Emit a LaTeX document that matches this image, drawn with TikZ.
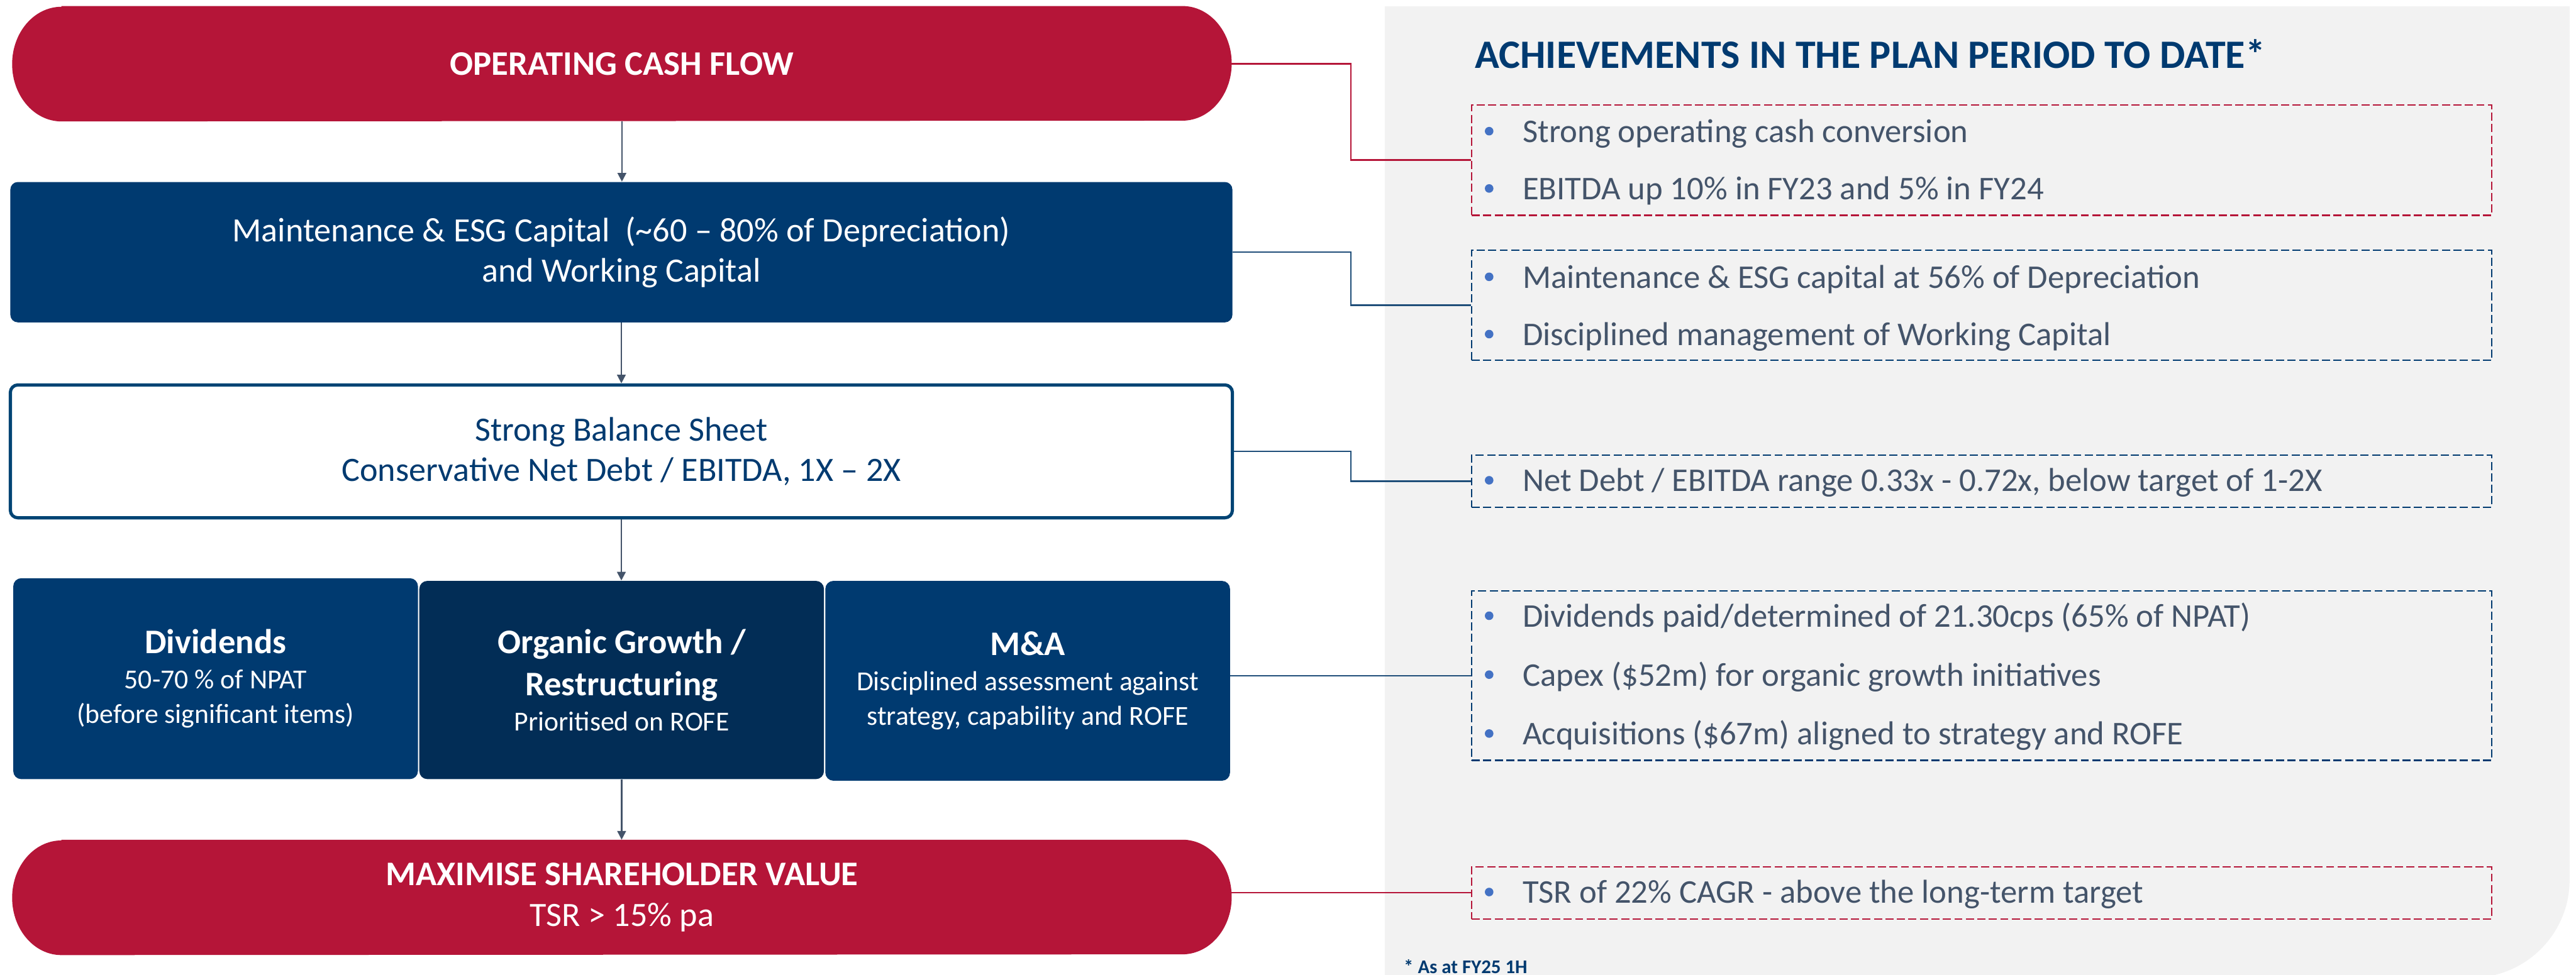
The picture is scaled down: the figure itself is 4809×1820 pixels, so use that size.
\documentclass[tikz,border=0pt]{standalone}
\usepackage{fontspec}
\setmainfont{Carlito}
\usetikzlibrary{arrows.meta,backgrounds,calc}

\definecolor{brandred}{RGB}{181,21,56}
\definecolor{brandblue}{RGB}{0,58,112}
\definecolor{deepblue}{RGB}{2,45,86}
\definecolor{frameblue}{RGB}{0,68,116}
\definecolor{slate}{RGB}{68,84,106}
\definecolor{dotblue}{RGB}{68,114,196}
\definecolor{panelgray}{RGB}{242,242,242}
\definecolor{linkblue}{RGB}{31,78,121}

\newcommand{\hdfont}{\bfseries\fontsize{18.3pt}{21.6pt}\selectfont}
\newcommand{\leftsize}{\fontsize{18.1pt}{21.6pt}\selectfont}
\newcommand{\itemsize}{\fontsize{17.6pt}{21pt}\selectfont}
\newcommand{\smallsize}{\fontsize{14.6pt}{18.5pt}\selectfont}

\tikzset{
  pill/.style={rectangle, minimum width=22.74cm, minimum height=2.14cm,
    inner sep=0pt, text=white, align=center},
  solidbox/.style={rectangle, rounded corners=0.14cm, fill=brandblue,
    text=white, align=center, inner sep=0pt},
  framebox/.style={rectangle, rounded corners=0.14cm, draw=frameblue,
    line width=1.7pt, fill=white, text=brandblue, align=center, inner sep=0pt},
  dashbox/.style={rectangle, line width=0.75pt, dash pattern=on 4.3pt off 1.8pt,
    minimum width=19.03cm, inner sep=0pt},
  achv/.style={anchor=base west, inner sep=0pt, text=slate, font=\itemsize},
  flow/.style={draw=slate, line width=0.75pt, -{Triangle[length=4.6pt,width=4.6pt]}},
  link/.style={line width=0.8pt},
}

\begin{document}
\begin{tikzpicture}[x=0.01cm, y=-0.01cm]
\useasboundingbox (0,0) rectangle (4809,1820);

% ---- left column: cash flow waterfall ----
\node[pill, font=\hdfont] (ocf) at (1161,119) {OPERATING CASH FLOW};

\node[solidbox, minimum width=22.8cm, minimum height=2.62cm, font=\leftsize] (mnt) at (1160,471)
  {Maintenance \& ESG Capital\ \ (\textasciitilde60 -- 80\% of Depreciation)\\and Working Capital};

\node[framebox, minimum width=22.8cm, minimum height=2.48cm, font=\leftsize] (bal) at (1160,843)
  {Strong Balance Sheet\\Conservative Net Debt / EBITDA, 1X -- 2X};

\node[solidbox, minimum width=7.55cm, minimum height=3.75cm, rounded corners=0.15cm, font=\smallsize] (div) at (402.5,1267.5)
  {{\hdfont Dividends}\\50-70 \% of NPAT\\(before significant items)};

\node[solidbox, fill=deepblue, minimum width=7.55cm, minimum height=3.70cm, rounded corners=0.15cm, font=\smallsize] (org) at (1160.5,1270)
  {{\hdfont Organic Growth /}\\[4pt]{\hdfont Restructuring}\\Prioritised on ROFE};

\node[solidbox, minimum width=7.55cm, minimum height=3.73cm, rounded corners=0.15cm, font=\smallsize] (ma) at (1918.5,1271.5)
  {{\hdfont M\&A}\\Disciplined assessment against\\strategy, capability and ROFE};

\node[pill, font=\leftsize] (msv) at (1161,1676)
  {{\hdfont MAXIMISE SHAREHOLDER VALUE}\\TSR > 15\% pa};

% ---- right column: achievements ----
\node[anchor=base west, inner sep=0pt, text=brandblue, font=\bfseries\fontsize{21.4pt}{26pt}\selectfont] (title) at (2753,127)
  {ACHIEVEMENTS IN THE PLAN PERIOD TO DATE*};

\node[dashbox, draw=brandred,  minimum height=2.06cm] (ba) at (3699.5,299) {};
\node[dashbox, draw=brandblue, minimum height=2.06cm] (bb) at (3699.5,570) {};
\node[dashbox, draw=brandblue, minimum height=0.97cm] (bc) at (3699.5,898.5) {};
\node[dashbox, draw=brandblue, minimum height=3.16cm] (bd) at (3699.5,1262) {};
\node[dashbox, draw=brandred,  minimum height=0.97cm] (be) at (3699.5,1667.5) {};

\node[achv] (a1) at (2842,266)  {Strong operating cash conversion};
\node[achv] (a2) at (2842,373)  {EBITDA up 10\% in FY23 and 5\% in FY24};
\node[achv] (b1) at (2842,538)  {Maintenance \& ESG capital at 56\% of Depreciation};
\node[achv] (b2) at (2842,645)  {Disciplined management of Working Capital};
\node[achv] (c1) at (2842,918)  {Net Debt / EBITDA range 0.33x - 0.72x, below target of 1-2X};
\node[achv] (d1) at (2842,1171) {Dividends paid/determined of 21.30cps (65\% of NPAT)};
\node[achv] (d2) at (2842,1281) {Capex (\$52m) for organic growth initiatives};
\node[achv] (d3) at (2842,1391) {Acquisitions (\$67m) aligned to strategy and ROFE};
\node[achv] (e1) at (2842,1687) {TSR of 22\% CAGR - above the long-term target};

\foreach \n in {a1,a2,b1,b2,c1,d1,d2,d3,e1}
  \fill[dotblue] ([xshift=-0.62cm,yshift=0.21cm]\n.base west) circle (0.08cm);

\node[anchor=base west, inner sep=0pt, text=brandblue, font=\bfseries\fontsize{10.3pt}{12pt}\selectfont] (note) at (2620,1818)
  {* As at FY25 1H};

% ---- backgrounds: grey panel and terminator shapes ----
\begin{scope}[on background layer]
  \fill[panelgray] (2585,12) -- (4797,12) -- (4797,1643)
    arc[start angle=0, end angle=-90, radius=1.83cm] -- (2585,1826) -- cycle;
  \foreach \p in {ocf,msv}
    \fill[brandred] ([xshift=0.92cm]\p.north west) -- ([xshift=-0.92cm]\p.north east)
      arc[start angle=90, end angle=-90, x radius=0.92cm, y radius=1.07cm]
      -- ([xshift=0.92cm]\p.south west)
      arc[start angle=270, end angle=90, x radius=0.92cm, y radius=1.07cm] -- cycle;
\end{scope}

% ---- connectors ----
\coordinate (jx) at (2522,0);
\draw[link, brandred]  (ocf.east) -- (ocf.east -| jx) |- (ba.west);
\draw[link, linkblue]  (mnt.east) -- (mnt.east -| jx) |- (bb.west);
\draw[link, linkblue]  (bal.east) -- (bal.east -| jx) |- (bc.west);
\draw[link, linkblue]  (bd.west -| ma.east) -- (bd.west);
\draw[link, brandred]  (be.west -| msv.east) -- (be.west);

\draw[flow] (ocf.south) -- (ocf.south |- mnt.north);
\draw[flow] (mnt.south) -- (mnt.south |- bal.north);
\draw[flow] (bal.south) -- (bal.south |- org.north);
\draw[flow] (org.south) -- (org.south |- msv.north);
\end{tikzpicture}
\end{document}
